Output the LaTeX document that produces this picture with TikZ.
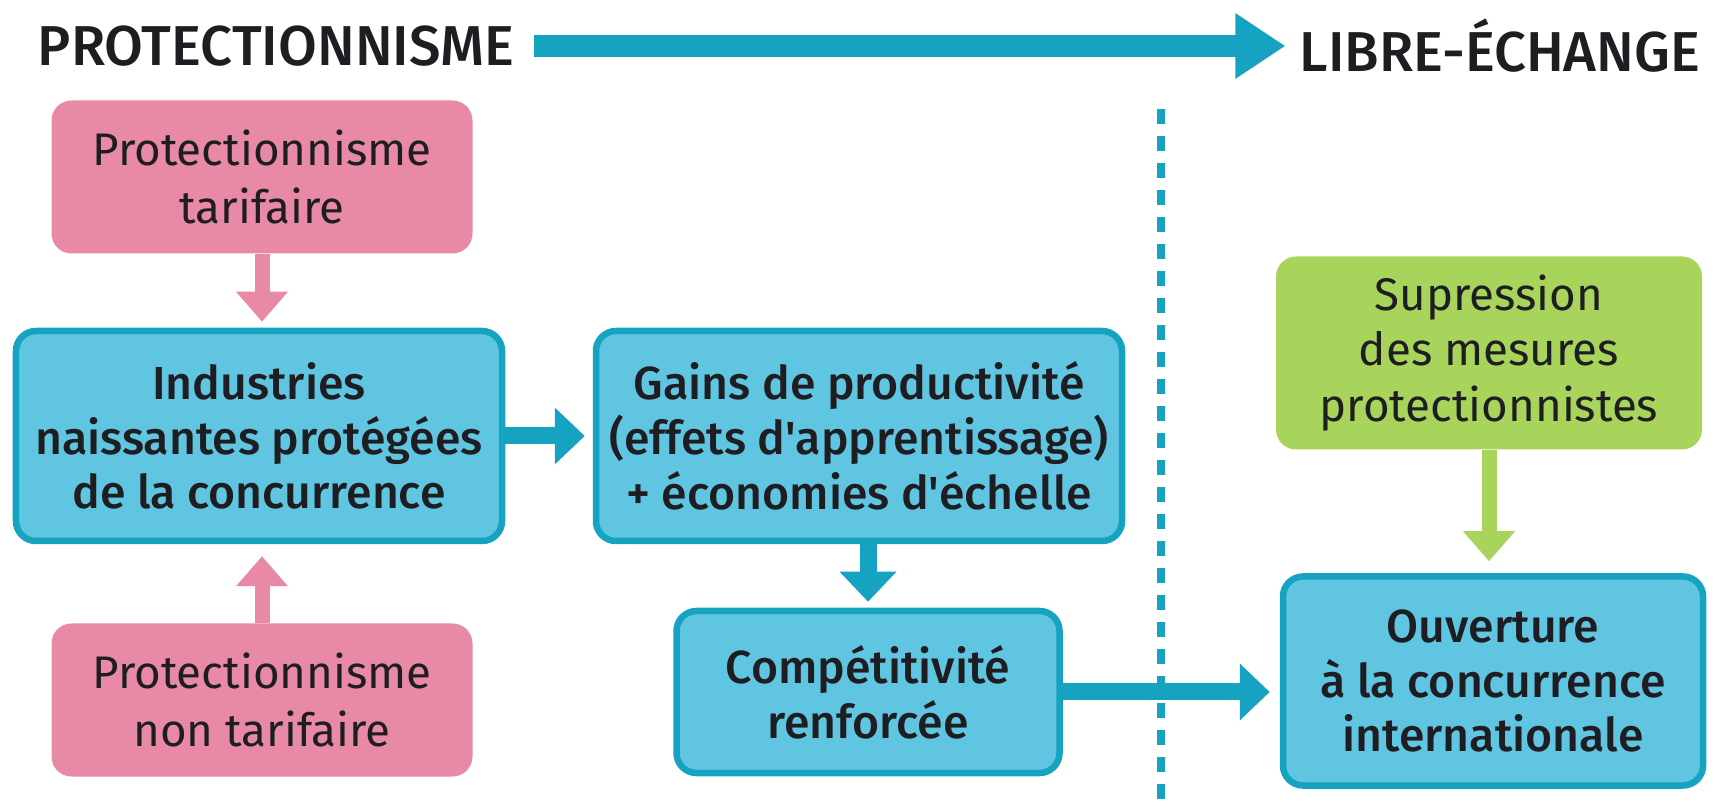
\documentclass[tikz,border=0pt]{standalone}
\usepackage{fontspec}
\setmainfont{Fira Sans}
\newfontfamily\medfont{Fira Sans Medium}
\usepackage{xcolor}
\usepackage{tikz}
\usetikzlibrary{arrows.meta, positioning, calc}

\definecolor{pinkfill}{RGB}{232,137,166}
\definecolor{bluefill}{RGB}{96,197,224}
\definecolor{blueline}{RGB}{22,163,194}
\definecolor{greenfill}{RGB}{168,212,92}
\definecolor{inktext}{RGB}{30,30,34}

\tikzstyle{pinknode} = [rectangle, rounded corners=0.2cm, fill=pinkfill, text=inktext, align=center, font=\fontsize{13}{16.4}\selectfont]
\tikzstyle{greennode} = [rectangle, rounded corners=0.2cm, fill=greenfill, text=inktext, align=center, font=\fontsize{13}{15.8}\selectfont]
\tikzstyle{bluenode} = [rectangle, rounded corners=0.2cm, fill=bluefill, draw=blueline, line width=0.065cm, text=inktext, align=center, font=\medfont\fontsize{13.2}{15.6}\selectfont]
\tikzstyle{pinkarrow} = [draw=pinkfill, line width=0.15cm, -{Triangle[length=0.3cm, width=0.5cm]}]
\tikzstyle{bluearrow} = [draw=blueline, line width=0.17cm, -{Triangle[length=0.3cm, width=0.55cm]}]
\tikzstyle{greenarrow} = [draw=greenfill, line width=0.15cm, -{Triangle[length=0.3cm, width=0.5cm]}]

\begin{document}
\begin{tikzpicture}
\useasboundingbox (0,0) rectangle (17.13,8);

% Titles
\node[font=\medfont\fontsize{16}{18}\selectfont, text=inktext] (prot) at (2.76,7.54) {PROTECTIONNISME};
\node[font=\medfont\fontsize{16}{18}\selectfont, text=inktext] (libre) at (15.0,7.54) {LIBRE-ÉCHANGE};
\draw[draw=blueline, line width=0.22cm, -{Triangle[length=0.5cm, width=0.62cm]}, shorten <=0.08cm, shorten >=0.02cm] (prot.east) -- (libre.west);

% Separation line
\coordinate (septop) at (11.61,6.91);
\coordinate (sepbot) at (11.61,0);
\draw[draw=blueline, line width=0.08cm, dash pattern=on 0.15cm off 0.12cm] (septop) -- (sepbot);

% Protectionism side
\node[pinknode, minimum width=4.21cm, minimum height=1.53cm] (tarif) at (2.62,6.23) {Protectionnisme\\tarifaire};
\node[bluenode, minimum width=4.86cm, minimum height=2.1cm] (naiss) at (2.59,3.64) {Industries\\naissantes protégées\\de la concurrence};
\node[pinknode, minimum width=4.21cm, minimum height=1.53cm] (nontarif) at (2.62,1.00) {Protectionnisme\\non tarifaire};
\node[bluenode, minimum width=5.26cm, minimum height=2.1cm] (gains) at (8.59,3.64) {Gains de productivité\\(effets d'apprentissage)\\+ économies d'échelle};
\node[bluenode, minimum width=3.83cm, minimum height=1.62cm] (compet) at (8.68,1.08) {Compétitivité\\renforcée};

% Free trade side
\node[greennode, minimum width=4.26cm, minimum height=1.93cm] (supp) at (14.89,4.47) {Supression\\des mesures\\protectionnistes};
\node[bluenode, minimum width=4.2cm, minimum height=2.09cm] (ouvert) at (14.93,1.19) {Ouverture\\à la concurrence\\internationale};

% Links
\draw[pinkarrow, shorten >=0.06cm] (tarif.south) -- (tarif.south |- naiss.north);
\draw[pinkarrow, shorten >=0.12cm] (nontarif.north) -- (nontarif.north |- naiss.south);
\draw[bluearrow, shorten >=0.08cm] (naiss.east) -- (gains.west);
\draw[bluearrow, shorten >=0.06cm] (gains.south -| compet.north) -- (compet.north);
\draw[bluearrow, shorten >=0.1cm] (compet.east) -- (compet.east -| ouvert.west);
\draw[greenarrow, shorten >=0.12cm] (supp.south) -- (supp.south |- ouvert.north);
\end{tikzpicture}
\end{document}
